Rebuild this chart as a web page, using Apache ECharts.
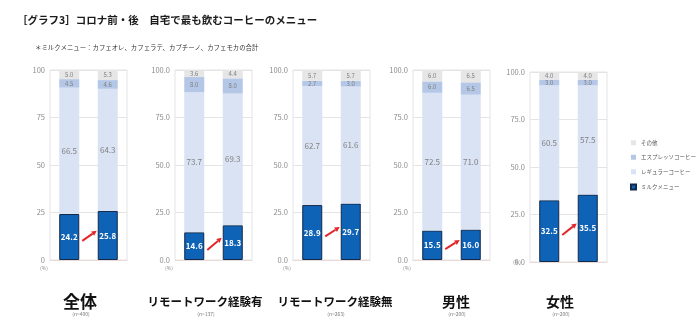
<!DOCTYPE html>
<html><head><meta charset="utf-8">
<script src="https://cdn.jsdelivr.net/npm/echarts@6/dist/echarts.min.js"></script>
<style>html,body{margin:0;padding:0;background:#fff}#c{width:700px;height:323px}</style>
</head><body><div id="c"></div>
<script>
// Survey groups and their sample sizes
const groups = ['全体', 'リモートワーク経験有', 'リモートワーク経験無', '男性', '女性'];
const sampleSizes = ['(n=400)', '(n=137)', '(n=263)', '(n=200)', '(n=200)'];
const periods = ['コロナ前', 'コロナ後'];
const seriesNames = ['ミルクメニュー', 'レギュラーコーヒー', 'エスプレッソコーヒー', 'その他'];
const legendOrder = ['その他', 'エスプレッソコーヒー', 'レギュラーコーヒー', 'ミルクメニュー'];

// Shares (%) per group: [before, after]
const milk     = [[24.2, 25.8], [14.6, 18.3], [28.9, 29.7], [15.5, 16.0], [32.5, 35.5]];
const regular  = [[66.5, 64.3], [73.7, 69.3], [62.7, 61.6], [72.5, 71.0], [60.5, 57.5]];
const espresso = [[4.5, 4.6], [8.0, 8.0], [2.7, 3.0], [6.0, 6.5], [3.0, 3.0]];
const other    = [[5.0, 5.3], [3.6, 4.4], [5.7, 5.7], [6.0, 6.5], [4.0, 4.0]];

const yMin = 0, yMax = 100, yStep = 25;

const titleText = '［グラフ3］コロナ前・後　自宅で最も飲むコーヒーのメニュー';
const noteText = '＊ミルクメニュー：カフェオレ、カフェラテ、カプチーノ、カフェモカの合計';

// Panel layout
const FONT = '"Noto Sans CJK JP", "Noto Sans", sans-serif';
const gridLeft = [50, 175, 293, 413, 530];
const gridTop = [70, 70, 70, 70, 72];
const gridW = 77, gridH = 190;
const labelCenters = [80, 205, 335, 456, 560];
const labelSizes = [17, 11.5, 11.5, 14, 14];

const colors = {
  milk: '#0f63b6', milkBorder: '#13294a',
  regular: '#dae3f3', espresso: '#b4c7e7', other: '#e6e6e6'
};

const chart = echarts.init(document.getElementById('c'), null, { renderer: 'canvas' });

const grids = [], xAxes = [], yAxes = [], series = [];
groups.forEach((g, i) => {
  grids.push({
    left: gridLeft[i], top: gridTop[i], width: gridW, height: gridH,
    show: true, borderColor: '#e4e4e4', borderWidth: 1, backgroundColor: 'transparent'
  });
  xAxes.push({
    type: 'category', gridIndex: i, data: periods,
    axisLabel: { show: false }, axisTick: { show: false },
    axisLine: { show: true, lineStyle: { color: '#ead9d9', width: 1 } }
  });
  yAxes.push({
    type: 'value', gridIndex: i, min: yMin, max: yMax, interval: yStep,
    axisLine: { show: false }, axisTick: { show: false },
    splitLine: { show: true, lineStyle: { color: '#e4e4e4', width: 1 } },
    axisLabel: {
      fontSize: 7.5, color: '#8c8c8c', margin: 5, fontFamily: FONT,
      formatter: v => i === 0 ? String(v) : v.toFixed(1)
    }
  });
  const stack = 'p' + i;
  const common = { type: 'bar', xAxisIndex: i, yAxisIndex: i, stack, barWidth: '52%', animation: false };
  const fmt = p => Number(p.value).toFixed(1);
  series.push(Object.assign({}, common, {
    name: seriesNames[0], data: milk[i],
    itemStyle: { color: colors.milk, borderColor: colors.milkBorder, borderWidth: 1 },
    label: { show: true, position: 'inside', color: '#fff', fontWeight: 'bold', fontSize: 8, fontFamily: FONT, formatter: fmt }
  }));
  series.push(Object.assign({}, common, {
    name: seriesNames[1], data: regular[i],
    itemStyle: { color: colors.regular },
    label: { show: true, position: 'inside', color: '#7f7f7f', fontSize: 8, fontFamily: FONT, formatter: fmt }
  }));
  series.push(Object.assign({}, common, {
    name: seriesNames[2], data: espresso[i],
    itemStyle: { color: colors.espresso },
    label: { show: true, position: 'inside', color: '#7f7f7f', fontSize: 6, fontFamily: FONT, formatter: fmt }
  }));
  series.push(Object.assign({}, common, {
    name: seriesNames[3], data: other[i],
    itemStyle: { color: colors.other },
    label: { show: true, position: 'inside', color: '#7f7f7f', fontSize: 6, fontFamily: FONT, formatter: fmt }
  }));
});

chart.setOption({
  backgroundColor: '#ffffff',
  animation: false,
  textStyle: { fontFamily: FONT },
  title: [
    { text: titleText, left: 12, top: 10, textStyle: { fontSize: 10.5, fontWeight: 'bold', color: '#1a1a1a', fontFamily: FONT } },
    { text: noteText, left: 30, top: 39, textStyle: { fontSize: 6.4, fontWeight: 'normal', color: '#333', fontFamily: FONT } }
  ],
  legend: {
    orient: 'vertical', left: 630, top: 140, itemWidth: 5, itemHeight: 5, itemGap: 9,
    icon: 'rect', data: legendOrder, padding: 0,
    textStyle: { fontSize: 5.5, color: '#555', fontFamily: FONT }
  },
  grid: grids, xAxis: xAxes, yAxis: yAxes, series
});

// Annotations: group names, sample sizes, unit marks and red arrows between bars
const graphics = [];
groups.forEach((g, i) => {
  graphics.push({
    type: 'text', x: labelCenters[i], y: 302,
    style: { text: g, fontSize: labelSizes[i], fontWeight: 'bold', fill: '#111', textAlign: 'center', textVerticalAlign: 'middle', fontFamily: FONT }
  });
  graphics.push({
    type: 'text', x: labelCenters[i] + 1, y: 314,
    style: { text: sampleSizes[i], fontSize: 5, fill: '#777', textAlign: 'center', textVerticalAlign: 'middle', fontFamily: FONT }
  });
  const last = i === groups.length - 1;
  graphics.push({
    type: 'text', x: gridLeft[i] - (last ? 17 : 10), y: gridTop[i] + gridH + (last ? 0 : 8),
    style: { text: '(%)', fontSize: 5, fill: '#888', textAlign: 'left', textVerticalAlign: 'middle', fontFamily: FONT }
  });

  const p0 = chart.convertToPixel({ xAxisIndex: i, yAxisIndex: i }, [0, milk[i][0] / 2 - 2]);
  const p1 = chart.convertToPixel({ xAxisIndex: i, yAxisIndex: i }, [1, milk[i][1] / 2 + 2.5]);
  const half = (p1[0] - p0[0]) * 0.52 / 2;
  const sx = p0[0] + half + 3, sy = p0[1];
  const ex = p1[0] - half - 1, ey = p1[1];
  const dx = ex - sx, dy = ey - sy, len = Math.hypot(dx, dy);
  const ux = dx / len, uy = dy / len;
  const headL = 5, headW = 2.6;
  const bx = ex - ux * headL, by = ey - uy * headL;
  graphics.push({
    type: 'line', shape: { x1: sx, y1: sy, x2: bx, y2: by },
    style: { stroke: '#e3262a', lineWidth: 2 }
  });
  graphics.push({
    type: 'polygon',
    shape: { points: [[ex, ey], [bx - uy * headW, by + ux * headW], [bx + uy * headW, by - ux * headW]] },
    style: { fill: '#e3262a' }
  });
});
chart.setOption({ graphic: graphics });
</script>
</body></html>
